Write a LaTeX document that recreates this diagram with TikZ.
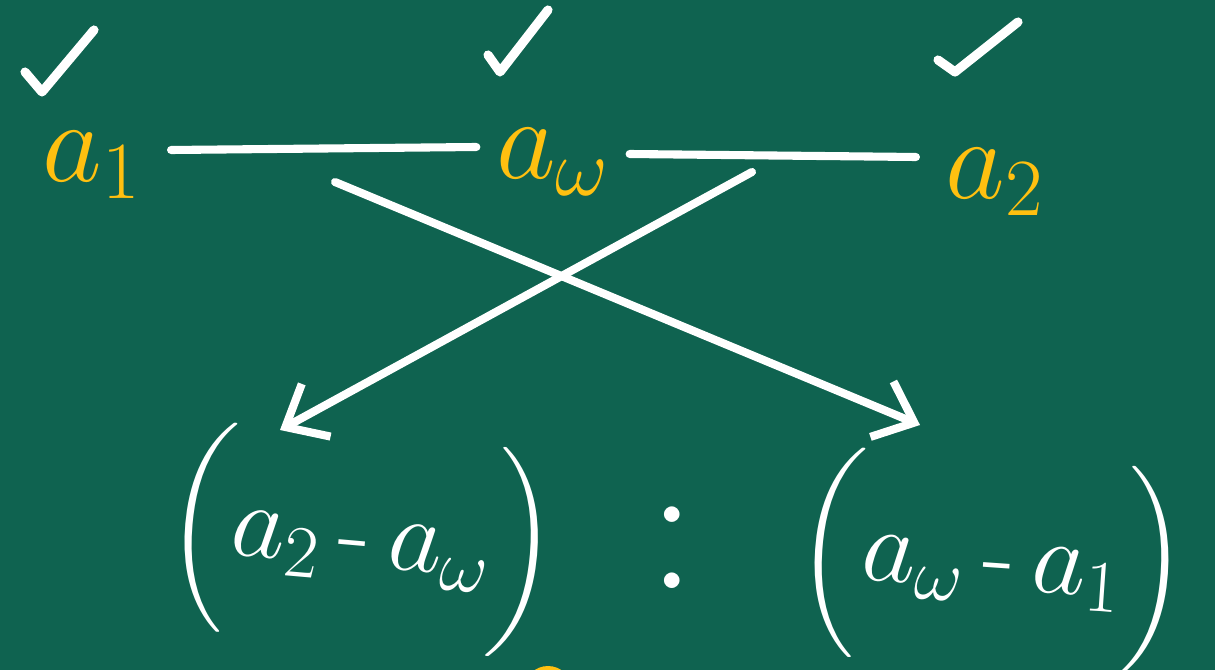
\RequirePackage{fix-cm}
\documentclass[tikz,border=0pt]{standalone}
\usepackage{amsmath}
\usetikzlibrary{arrows.meta, calc, positioning}

\definecolor{board}{HTML}{0F6350}
\definecolor{chalkyellow}{HTML}{FFC010}

\tikzset{
  term/.style={text=chalkyellow, font=\fontsize{33}{38}\selectfont, inner sep=2pt},
  ratio/.style={text=white, font=\fontsize{30}{34}\selectfont, inner sep=2pt},
  chalk/.style={white, line width=2.3pt, line cap=round, line join=round},
  chalkarrow/.style={chalk, -{Straight Barb[length=3.5mm, width=6mm, line width=2.3pt]}},
  tick/.style={white, line width=2.6pt, line cap=round, line join=round}
}

\begin{document}
\begin{tikzpicture}[x=0.01cm, y=-0.01cm]
% Board
\fill[board] (0,0) rectangle (1215,670);
\useasboundingbox (0,0) rectangle (1215,670);
\clip (0,0) rectangle (1215,670);

% Top row
\node[term] (a1) at (92,165) {$a_{1}$};
\node[term] (aw) at (553,162) {$a_{\omega}$};
\node[term] (a2) at (995,182) {$a_{2}$};

% Ticks
\draw[tick] (25,72) -- (42,92) -- (94,30);
\draw[tick] (488,55) -- (500,72) -- (548,10);
\draw[tick] (938,60) -- (955,72) -- (1018,22);

% Links
\draw[chalk] ($(a1.east)+(22,-15)$) -- ($(aw.west)+(-12,-15)$);
\draw[chalk] ($(aw.east)+(12,-8)$) -- ($(a2.west)+(-22,-25)$);

% Bottom ratio
\node[ratio, rotate=-5] (lhs) at (362,540) {$\Bigl(a_{2}\,\text{-}\,a_{\omega}\Bigr)$};
\node[ratio, font=\fontsize{54}{60}\selectfont] (colon) at (672,548) {$:$};
\node[ratio, rotate=-4] (rhs) at (992,562) {$\Bigl(a_{\omega}\,\text{-}\,a_{1}\Bigr)$};

% Crossing arrows
\coordinate (s1) at (335,182);
\coordinate (s2) at (752,172);
\coordinate (tipR) at (920,425);
\coordinate (tipL) at (280,430);
\draw[chalkarrow] (s1) -- (tipR);
\draw[chalkarrow] (s2) -- (tipL);

% Yellow mark cut off at the bottom edge
\fill[chalkyellow] (548,690) circle (24);
\end{tikzpicture}
\end{document}
